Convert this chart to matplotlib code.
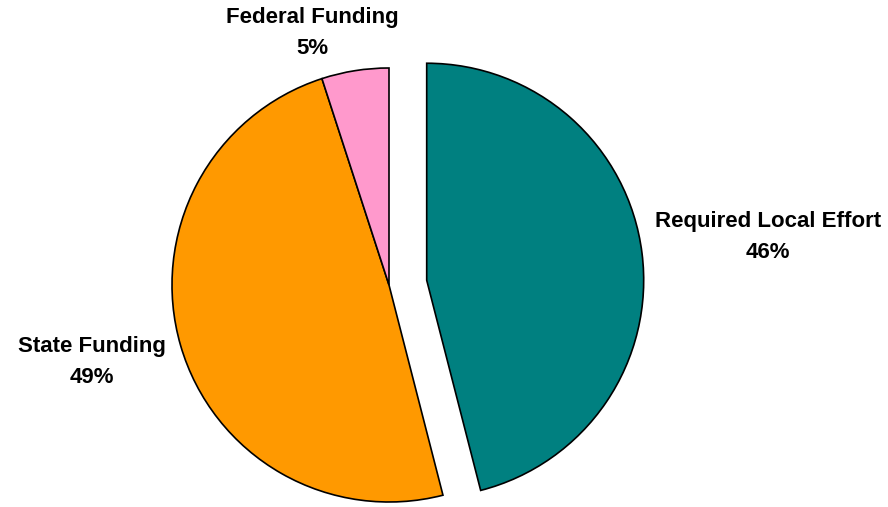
import matplotlib
matplotlib.use('Agg')
import matplotlib.pyplot as plt

labels = ['Required Local Effort', 'State Funding', 'Federal Funding']
shares = [46, 49, 5]
colors = ['#008080', '#FF9900', '#FF99CC']

W, H = 888, 507
fig = plt.figure(figsize=(W/100, H/100), dpi=100)
ax = fig.add_axes([0, 0, 1, 1])

# pie drawn in pixel units; explode is an absolute offset here
cx, cy, r = 389, H - 285, 217
explode = [38, 0, 0]
ax.pie(shares, colors=colors, explode=explode, startangle=90, counterclock=False,
       center=(cx, cy), radius=r, frame=True,
       wedgeprops=dict(edgecolor='black', linewidth=1.2))
ax.set_xlim(0, W)
ax.set_ylim(0, H)
ax.axis('off')

# label positions in pixels from the top-left
label_pos = [(768, 237), (92, 362), (312, 33)]
for name, val, (lx, ly) in zip(labels, shares, label_pos):
  ax.text(lx, H - ly, f'{name}\n{val}%', ha='center', va='center',
          fontsize=16, fontweight='bold', family='Liberation Sans',
          linespacing=1.6)

fig.savefig('out.png', dpi=100)
